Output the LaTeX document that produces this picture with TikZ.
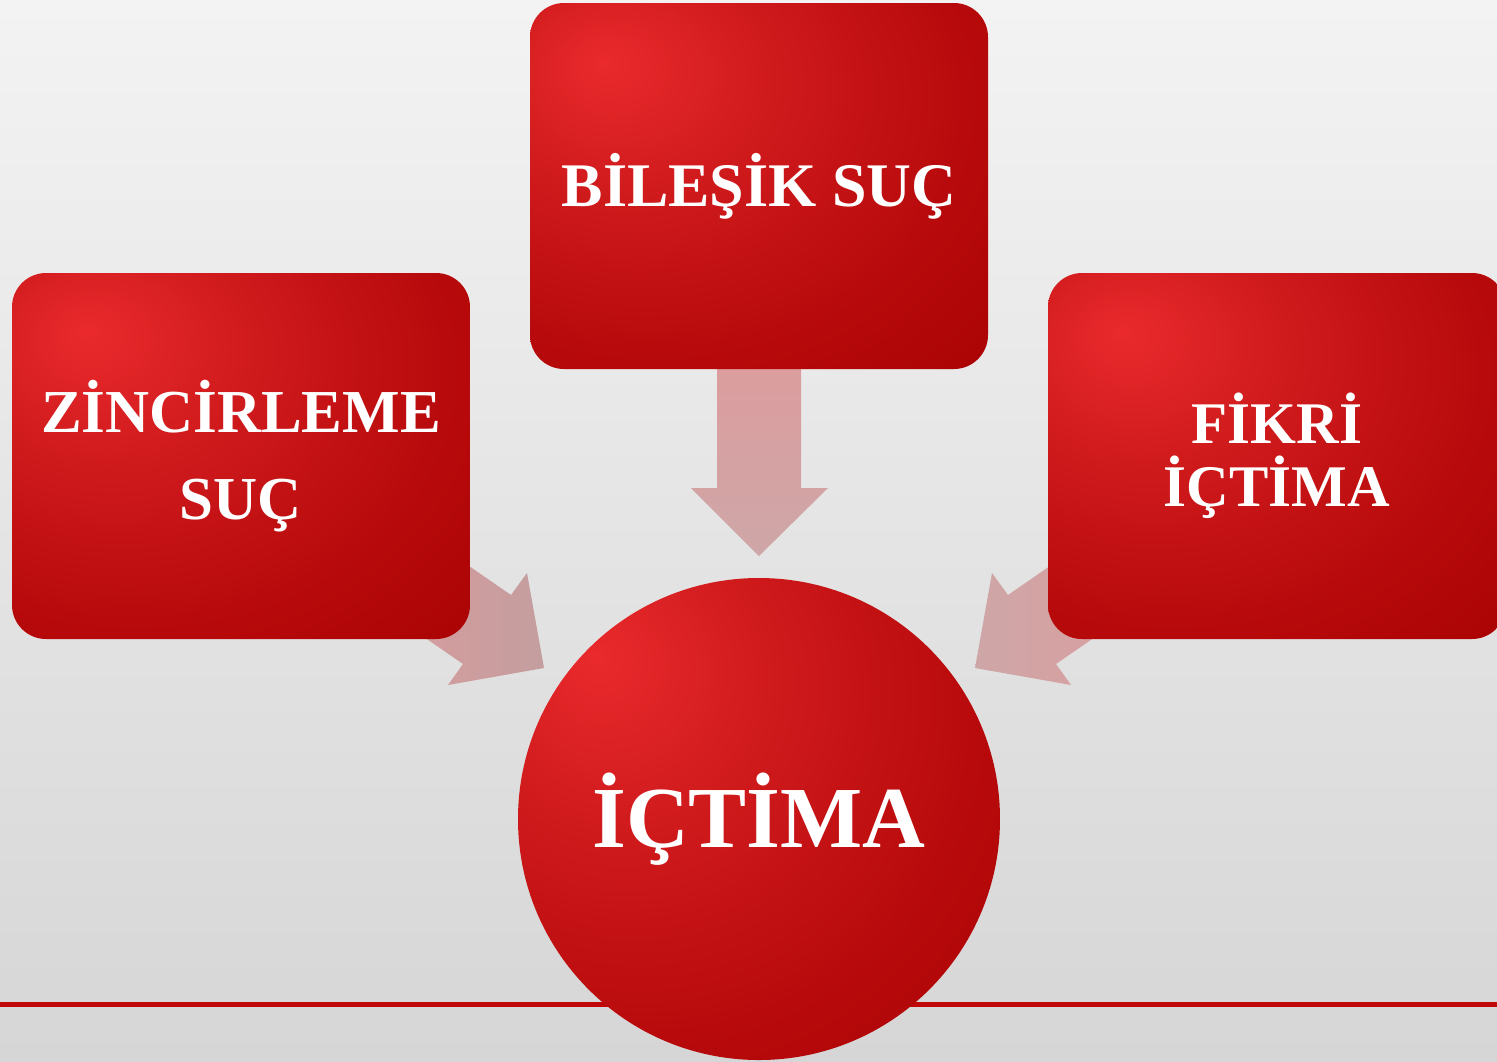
\documentclass[tikz,border=0pt]{standalone}
\usepackage{fontspec}
\setmainfont{Liberation Serif}
\definecolor{glowA}{RGB}{234,42,45}
\definecolor{glowB}{RGB}{210,28,30}
\definecolor{glowC}{RGB}{184,10,12}
\definecolor{glowD}{RGB}{164,0,0}
\definecolor{bgtop}{RGB}{243,243,243}
\definecolor{bgbot}{RGB}{214,214,214}
\definecolor{arrA}{RGB}{222,156,157}
\definecolor{arrB}{RGB}{206,166,167}
\definecolor{lineRed}{RGB}{192,8,8}
\pgfdeclareradialshading{redglow}{\pgfpoint{-17bp}{17bp}}{color(0bp)=(glowA); color(14bp)=(glowB); color(34bp)=(glowC); color(56bp)=(glowD); color(110bp)=(glowD)}
\tikzset{
  redbox/.style={rectangle, rounded corners=34pt, shade, shading=redglow, inner sep=0pt,
    minimum width=458pt, minimum height=366pt, text=white, align=center},
  redball/.style={circle, shade, shading=redglow, inner sep=0pt, minimum size=482pt,
    text=white, align=center},
  blockarrow/.style={draw=none}
}
\begin{document}
\begin{tikzpicture}[x=1pt,y=-1pt]
\useasboundingbox (0,0) rectangle (1497,1061);
\clip (0,0) rectangle (1497,1061);
\shade[top color=bgtop, bottom color=bgbot] (0,0) rectangle (1497,1061);
% baseline rule
\coordinate (ruleL) at (0,1004);
\coordinate (ruleR) at (1497,1004);
\draw[lineRed, line width=5pt] (ruleL) -- (ruleR);
% block arrows
\shade[blockarrow, top color=arrA, bottom color=arrB]
  (717,340) -- (717,488) -- (691,488) -- (759,556) -- (828,488) -- (801,488) -- (801,340) -- cycle;
\shade[blockarrow, left color=arrA, right color=arrB!95!black]
  (388,510) -- (511,595) -- (527,573) -- (544,668) -- (448,685) -- (463,664) -- (340,579) -- cycle;
\shade[blockarrow, right color=arrA, left color=arrB]
  (1131,510) -- (1008,595) -- (992,573) -- (975,668) -- (1071,685) -- (1056,664) -- (1179,579) -- cycle;
% shapes
\node[redbox, font=\bfseries\fontsize{62}{87}\selectfont] (bilesik) at (759,186) {BİLEŞİK SUÇ};
\node[redbox, font=\bfseries\fontsize{61}{87}\selectfont] (zincir) at (241,456) {ZİNCİRLEME\\SUÇ};
\node[redbox, font=\bfseries\fontsize{59}{63}\selectfont] (fikri) at (1277,456) {FİKRİ\\İÇTİMA};
\node[redball, font=\bfseries\fontsize{87}{90}\selectfont] (ictima) at (759,819) {İÇTİMA};
\end{tikzpicture}
\end{document}
